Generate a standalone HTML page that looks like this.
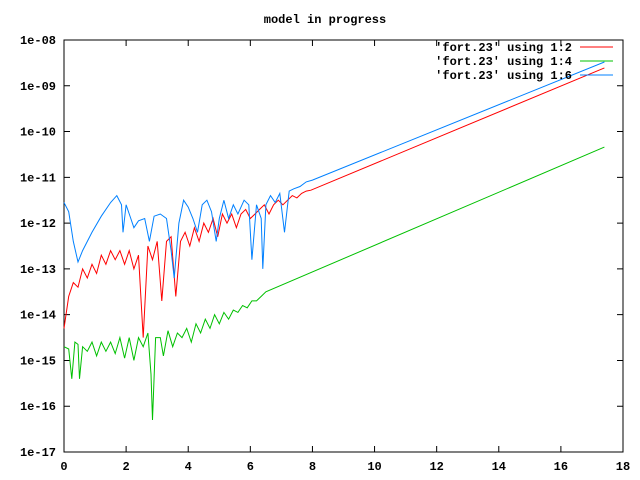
<!DOCTYPE html>
<html><head><meta charset="utf-8"><style>
html,body{margin:0;padding:0;background:#fff}
svg{display:block}
text{font-family:"Liberation Mono",monospace;font-size:12px;fill:#000;font-weight:bold}
</style></head><body>
<svg width="640" height="480" viewBox="0 0 640 480">
<text x="325" y="23" text-anchor="middle">model in progress</text>
<g id="axes"></g>
<g id="series"></g>
<g id="legend"></g>
</svg>
<script>
const xTicks=[0,2,4,6,8,10,12,14,16,18];
const yTicks=[-8,-9,-10,-11,-12,-13,-14,-15,-16,-17];
const yTickLabels=["1e-08","1e-09","1e-10","1e-11","1e-12","1e-13","1e-14","1e-15","1e-16","1e-17"];
const seriesNames=["'fort.23' using 1:2","'fort.23' using 1:4","'fort.23' using 1:6"];
const seriesColors=["#ff0000","#00c000","#0080ff"];
const redX=[0,0.15,0.3,0.45,0.6,0.75,0.9,1.05,1.2,1.35,1.5,1.65,1.8,1.95,2.1,2.25,2.4,2.55,2.7,2.85,3.0,3.15,3.3,3.45,3.6,3.75,3.9,4.05,4.2,4.35,4.5,4.65,4.8,4.95,5.1,5.25,5.4,5.55,5.7,5.85,6.0,6.15,6.3,6.45,6.6,6.75,6.9,7.05,7.2,7.35,7.5,7.65,7.8,7.95,17.4];
const redY=[-14.3,-13.6,-13.3,-13.4,-13.0,-13.2,-12.9,-13.1,-12.7,-12.9,-12.6,-12.8,-12.6,-12.9,-12.6,-13.0,-12.7,-14.5,-12.5,-12.8,-12.4,-13.7,-12.4,-12.3,-13.6,-12.4,-12.2,-12.5,-12.1,-12.4,-12.0,-12.2,-11.9,-12.3,-11.8,-12.0,-11.8,-12.1,-11.8,-11.7,-11.9,-11.8,-11.7,-11.6,-11.8,-11.6,-11.5,-11.6,-11.5,-11.4,-11.45,-11.35,-11.3,-11.28,-8.61];
const greenX=[0,0.15,0.25,0.35,0.45,0.5,0.6,0.75,0.9,1.05,1.2,1.35,1.5,1.65,1.8,1.95,2.1,2.25,2.4,2.55,2.7,2.8,2.85,2.95,3.1,3.2,3.35,3.5,3.65,3.8,3.95,4.1,4.25,4.4,4.55,4.7,4.85,5.0,5.15,5.3,5.45,5.6,5.75,5.9,6.05,6.2,6.35,6.5,17.4];
const greenY=[-14.7,-14.75,-15.4,-14.6,-14.65,-15.4,-14.7,-14.8,-14.6,-14.9,-14.6,-14.8,-14.6,-14.85,-14.5,-14.95,-14.5,-15.0,-14.5,-14.7,-14.4,-15.3,-16.3,-14.5,-14.5,-14.9,-14.35,-14.7,-14.4,-14.5,-14.3,-14.6,-14.2,-14.4,-14.1,-14.3,-14.0,-14.2,-13.95,-14.1,-13.9,-13.95,-13.8,-13.85,-13.7,-13.7,-13.6,-13.5,-10.34];
const blueX=[0,0.15,0.3,0.45,0.6,0.9,1.2,1.5,1.7,1.85,1.9,2.0,2.15,2.25,2.4,2.6,2.75,2.9,3.1,3.3,3.45,3.55,3.7,3.85,4.0,4.15,4.3,4.45,4.6,4.75,4.9,5.0,5.15,5.3,5.45,5.6,5.8,5.95,6.05,6.2,6.35,6.4,6.5,6.65,6.8,6.95,7.1,7.25,7.4,7.6,7.8,8.0,17.4];
const blueY=[-11.55,-11.75,-12.4,-12.85,-12.6,-12.2,-11.85,-11.55,-11.4,-11.6,-12.2,-11.6,-11.9,-12.1,-11.95,-11.9,-12.4,-11.85,-11.8,-11.9,-12.6,-13.2,-12.0,-11.5,-11.65,-11.9,-12.2,-11.6,-11.5,-11.75,-12.4,-11.9,-11.5,-11.9,-11.6,-11.8,-11.5,-11.6,-12.8,-11.6,-11.9,-13.0,-11.6,-11.4,-11.55,-11.35,-12.2,-11.3,-11.25,-11.2,-11.1,-11.06,-8.48];

const L=64,R=623,T=40,B=452;
const sx=v=>L+(v-0)/(18-0)*(R-L);
const sy=v=>T+(-8-v)/9*(B-T);
const NS="http://www.w3.org/2000/svg";
function mk(tag,attrs,parent){const e=document.createElementNS(NS,tag);for(const k in attrs)e.setAttribute(k,attrs[k]);parent.appendChild(e);return e;}
const axes=document.getElementById('axes');
const frame=mk('rect',{x:L,y:T,width:R-L,height:B-T,fill:'none',stroke:'#000','stroke-width':1},axes);


xTicks.forEach(v=>{
  const x=sx(v);
  const t=mk('path',{d:`M${x},${B}v-6M${x},${T}v6`,stroke:'#000','stroke-width':1},axes);
  
  
  const l=mk('text',{x:x,y:B+18,'text-anchor':'middle'},axes);
  l.textContent=String(v);
  
  
});
yTicks.forEach((v,i)=>{
  const y=sy(v);
  const t=mk('path',{d:`M${L},${y}h6M${R},${y}h-6`,stroke:'#000','stroke-width':1},axes);
  
  
  const l=mk('text',{x:L-8,y:y+4,'text-anchor':'end'},axes);
  l.textContent=yTickLabels[i];
  
  
});
const ser=document.getElementById('series');
function line(xs,ys,color,name){
  const d=xs.map((x,i)=>(i?'L':'M')+sx(x).toFixed(1)+','+sy(ys[i]).toFixed(1)).join('');
  const p=mk('path',{d:d,fill:'none',stroke:color,'stroke-width':1},ser);
  
  
}
line(greenX,greenY,seriesColors[1],'series-1-4');
line(redX,redY,seriesColors[0],'series-1-2');
line(blueX,blueY,seriesColors[2],'series-1-6');
const leg=document.getElementById('legend');
seriesNames.forEach((n,i)=>{
  const y=47+i*14;
  const t=mk('text',{x:572,y:y+4,'text-anchor':'end'},leg);
  t.textContent=n;
  
  
  const s=mk('path',{d:`M580,${y}h33`,stroke:seriesColors[i],'stroke-width':1},leg);
  
  
});
</script>
</body></html>
